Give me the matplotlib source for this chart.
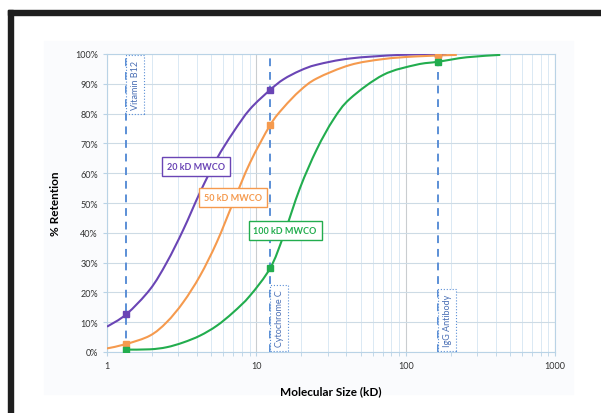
import numpy as np
import matplotlib.pyplot as plt
import matplotlib.patches as patches
from matplotlib.path import Path

plt.rcParams['font.family'] = ['Lato', 'DejaVu Sans']

# retention curves (molecular size in kD, % retention)
size_20 = [1.0, 1.35, 1.94, 2.51, 3.24, 4.2, 5.43, 7.0, 9.07, 12.4, 15.2, 19.6, 25.4, 42.4, 91.7, 188]
ret_20 = [8.5, 12.7, 21.0, 30.0, 41.0, 53.6, 64.8, 73.7, 81.5, 88.0, 91.5, 94.4, 96.4, 98.5, 99.7, 100.0]

size_50 = [1.0, 1.35, 1.94, 2.51, 3.24, 4.2, 5.43, 7.0, 9.07, 12.4, 15.2, 19.6, 25.4, 42.4, 70.8, 118, 220]
ret_50 = [1.2, 2.7, 5.5, 10.0, 16.7, 25.6, 36.8, 50.2, 63.5, 76.2, 82.0, 87.7, 91.8, 96.3, 98.3, 99.2, 99.7]

size_100 = [1.35, 1.94, 2.51, 3.24, 4.2, 5.43, 7.0, 9.07, 12.4, 15.2, 19.6, 25.4, 32.8, 42.4, 70.8, 118, 165, 256, 430]
ret_100 = [0.8, 0.9, 1.6, 3.2, 5.5, 8.8, 13.3, 18.9, 28.2, 39.0, 55.0, 68.0, 78.0, 85.0, 93.0, 96.4, 97.4, 98.9, 99.7]

# reference molecules and the marked retention values
molecules = ['Vitamin B12', 'Cytochrome C', 'IgG Antibody']
mol_size = [1.35, 12.4, 165]
mark_20 = [12.7, 88.0, 99.9]
mark_50 = [2.7, 76.2, 99.5]
mark_100 = [0.8, 28.2, 97.4]

series = [
    ('20 kD MWCO', size_20, ret_20, mark_20, '#6a45b5', (3.95, 62.4)),
    ('50 kD MWCO', size_50, ret_50, mark_50, '#f59a4e', (6.98, 51.7)),
    ('100 kD MWCO', size_100, ret_100, mark_100, '#22ad4e', (15.6, 40.9)),
]


def smooth_path(xs, ys):
    # Excel style smoothed line: bezier segments through the points (in log-x space)
    lx = np.log10(xs)
    ys = np.asarray(ys, float)
    pts = np.column_stack([lx, ys])
    verts = [pts[0]]
    codes = [Path.MOVETO]
    n = len(pts)
    for i in range(n - 1):
        p0 = pts[max(i - 1, 0)]
        p1, p2 = pts[i], pts[i + 1]
        p3 = pts[min(i + 2, n - 1)]
        c1 = p1 + (p2 - p0) / 6
        c2 = p2 - (p3 - p1) / 6
        verts += [c1, c2, p2]
        codes += [Path.CURVE4] * 3
    verts = np.array(verts)
    verts[:, 0] = 10 ** verts[:, 0]
    return Path(verts, codes)


fig = plt.figure(figsize=(6.01, 4.14), dpi=100)

# page frame (top and left black bars) and light chart background
fig.patches.append(patches.Rectangle((8/601, 0), 5/601, 1 - 11/414, transform=fig.transFigure,
                                     color='#1e1e1e', zorder=-10))
fig.patches.append(patches.Rectangle((8/601, 1 - 16/414), 1, 5/414, transform=fig.transFigure,
                                     color='#1e1e1e', zorder=-10))
fig.patches.append(patches.Rectangle((44/601, 1 - 395/414), 529/601, 353/414, transform=fig.transFigure,
                                     color='#fafbfd', zorder=-10))

ax = fig.add_axes([107/601, 61/414, 448/601, 298/414])
ax.set_facecolor('white')
ax.set_xscale('log')
ax.set_xlim(1, 1000)
ax.set_ylim(0, 100)

ax.set_yticks(range(0, 101, 10))
ax.set_yticklabels([f'{v}%' for v in range(0, 101, 10)])
ax.set_xticks([1, 10, 100, 1000])
ax.set_xticklabels(['1', '10', '100', '1000'])
ax.tick_params(axis='both', labelsize=6.5, colors='#333333', length=3)
ax.tick_params(axis='x', which='minor', length=3)
ax.tick_params(axis='both', which='both', color='#b9d3e6')
ax.grid(True, axis='x', which='minor', color='#d4e5f2', lw=0.6)
ax.grid(True, axis='x', which='major', color='#c9cdd0', lw=0.8)
ax.grid(True, axis='y', which='major', color='#cddbe5', lw=0.8)
for s in ax.spines.values():
    s.set_color('#b9d3e6')
    s.set_linewidth(0.8)

ax.set_xlabel('Molecular Size (kD)', fontsize=8.5, fontweight='bold', labelpad=11)
ax.set_ylabel('% Retention', fontsize=8.5, fontweight='bold', labelpad=10)

# dashed reference lines with dotted label boxes
box = dict(boxstyle='square,pad=0.5', fc='white', ec='#5b8fd6', ls=':', lw=0.8)
for name, x in zip(molecules, mol_size):
    ax.axvline(x, color='#5b8fd6', ls=(0, (4, 3)), lw=1.4, zorder=2)
    if name == 'Vitamin B12':
        ax.text(x * 1.07, 98.0, name, rotation=90, ha='left', va='top', fontsize=6.5,
                color='#4a6fb5', bbox=box, zorder=3)
    else:
        ax.text(x * 1.07, 2.0, name, rotation=90, ha='left', va='bottom', fontsize=6.5,
                color='#4a6fb5', bbox=box, zorder=3)

for label, xs, ys, marks, color, pos in series:
    ax.add_patch(patches.PathPatch(smooth_path(xs, ys), fc='none', ec=color, lw=1.5, zorder=4))
    ax.plot(mol_size, marks, 's', color=color, ms=4, zorder=5)
    ax.text(pos[0], pos[1], label, ha='center', va='center', fontsize=6.5, fontweight='bold',
            color=color, zorder=6,
            bbox=dict(boxstyle='square,pad=0.55', fc='white', ec=color, lw=1.0))

fig.savefig('out.png', dpi=100)
